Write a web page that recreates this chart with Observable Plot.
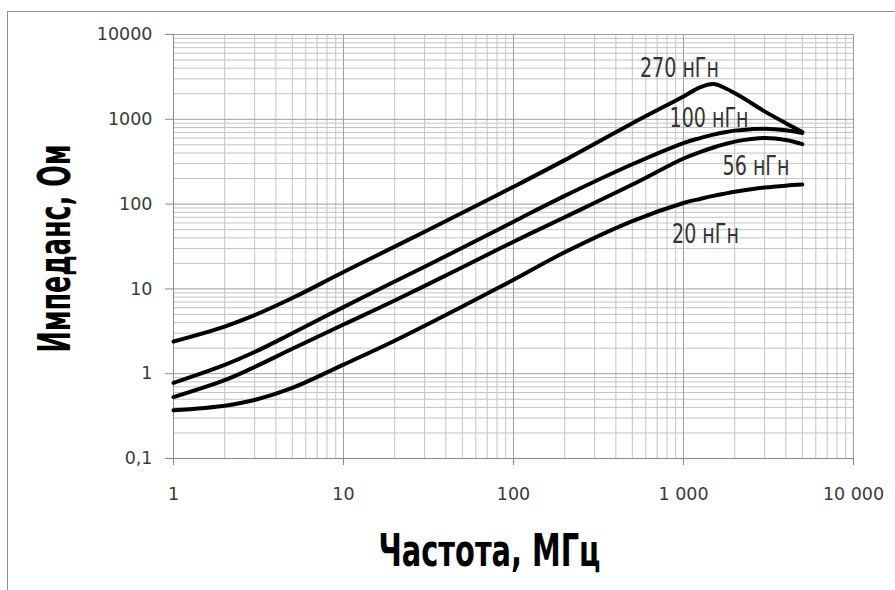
<!DOCTYPE html>
<html><head><meta charset="utf-8">
<script src="https://cdn.jsdelivr.net/npm/d3@7"></script>
<script src="https://cdn.jsdelivr.net/npm/@observablehq/plot@0.6"></script>
<style>
html,body{margin:0;padding:0;background:#fff;}
#wrap{position:relative;width:895px;height:590px;overflow:hidden;background:#fff;}
#border{position:absolute;left:7px;top:11px;width:1000px;height:1000px;border:1px solid #8f8f8f;box-sizing:border-box;pointer-events:none;}
#chart{position:absolute;left:0;top:0;}
</style></head><body>
<div id="wrap"><div id="chart"></div><div id="border"></div></div>
<script>
// Frequency, MHz
const freq = [1, 2, 3, 5, 10, 20, 50, 100, 200, 500, 1000, 1250, 1500, 1750, 2000, 2500, 3000, 4000, 5000];
// Impedance, Ohm
const z270 = [2.4, 3.6, 4.9, 7.8, 15.8, 31.5, 79, 160, 330, 900, 1860, 2380, 2600, 2340, 2040, 1560, 1240, 900, 710];
const z100 = [0.78, 1.27, 1.8, 3.0, 6.1, 12.2, 30.5, 62, 125, 295, 525, 600, 660, 705, 735, 765, 775, 745, 690];
const z56  = [0.53, 0.84, 1.2, 1.97, 3.8, 7.3, 18, 36, 70, 170, 345, 410, 465, 510, 545, 585, 600, 570, 510];
const z20  = [0.37, 0.42, 0.49, 0.68, 1.28, 2.45, 6.2, 12.8, 27, 63, 103, 115, 125, 133, 140, 150, 157, 165, 170];

const seriesNames = ["270 нГн", "100 нГн", "56 нГн", "20 нГн"];
const seriesValues = [z270, z100, z56, z20];

// Curve labels (data coordinates)
const labelText = ["270 нГн", "100 нГн", "56 нГн", "20 нГн"];
const labelF = [947, 1413, 2670, 1347];
const labelZ = [3980, 1028, 280, 44.4];

// Axis ticks
const xTicks = [1, 10, 100, 1000, 10000];
const xTickLabels = ["1", "10", "100", "1 000", "10 000"];
const yTicks = [0.1, 1, 10, 100, 1000, 10000];
const yTickLabels = ["0,1", "1", "10", "100", "1000", "10000"];

const xTitle = "Частота, МГц";
const yTitle = "Импеданс, Ом";

const rows = seriesNames.flatMap((name, i) => freq.map((f, j) => ({name, f, z: seriesValues[i][j]})));
const labels = labelText.map((t, i) => ({t, f: labelF[i], z: labelZ[i]}));

const minorX = xTicks.slice(0, -1).flatMap(d => d3.range(2, 10).map(m => m * d));
const minorY = yTicks.slice(0, -1).flatMap(d => d3.range(2, 10).map(m => +(m * d).toPrecision(3)));

const tickFont = "'DejaVu Sans', Verdana, sans-serif";
const titleFont = "'DejaVu Sans Condensed', 'DejaVu Sans', sans-serif";

const plot = Plot.plot({
  width: 895,
  height: 590,
  marginLeft: 173,
  marginTop: 34,
  marginRight: 42,
  marginBottom: 132,
  style: {background: "transparent", fontFamily: tickFont, fontSize: "18px", color: "#3a3a3a"},
  x: {type: "log", domain: [1, 10000]},
  y: {type: "log", domain: [0.1, 10000]},
  marks: [
    Plot.ruleX(minorX, {stroke: "#c4c4c4", strokeWidth: 1}),
    Plot.ruleY(minorY, {stroke: "#c4c4c4", strokeWidth: 1}),
    Plot.ruleX(xTicks, {stroke: "#a0a0a0", strokeWidth: 1}),
    Plot.ruleY(yTicks, {stroke: "#a0a0a0", strokeWidth: 1}),
    Plot.ruleX([xTicks[0]], {stroke: "#8a8a8a", strokeWidth: 1}),
    Plot.ruleY([yTicks[0]], {stroke: "#8a8a8a", strokeWidth: 1}),
    Plot.axisX({ticks: xTicks, tickFormat: (d) => xTickLabels[xTicks.indexOf(d)], tickSize: 7, tickPadding: 22, stroke: "#8a8a8a", fill: "#3a3a3a", label: null}),
    Plot.axisY({ticks: yTicks, tickFormat: (d) => yTickLabels[yTicks.indexOf(d)], tickSize: 8, tickPadding: 13, stroke: "#8a8a8a", fill: "#3a3a3a", label: null}),
    Plot.line(rows, {x: "f", y: "z", z: "name", stroke: "#000", strokeWidth: 4, curve: "catmull-rom", strokeLinejoin: "round", strokeLinecap: "round"}),
    Plot.text(labels, {x: "f", y: "z", text: "t", fill: "#333", fontSize: 27, fontFamily: titleFont, textAnchor: "middle"}),
    Plot.text([yTitle], {frameAnchor: "left", dx: -118, dy: 2, rotate: -90, fill: "#000", fontSize: 44, fontWeight: "bold", fontFamily: titleFont, textAnchor: "middle"}),
    Plot.text([xTitle], {frameAnchor: "bottom", dx: -24, dy: 107, fill: "#000", fontSize: 44, fontWeight: "bold", fontFamily: titleFont, textAnchor: "middle"})
  ]
});
document.getElementById("chart").appendChild(plot);

const svg = d3.select(plot);
const allText = svg.selectAll("text");
// tick labels: larger, Verdana-like
const tickSet = new Set([...xTickLabels, ...yTickLabels]);
allText.filter(function() { return tickSet.has(this.textContent); })
  .style("font-size", "17.5px").style("font-family", tickFont);
// Condense the narrow ISO-style lettering
allText.filter(function() { return this.textContent === yTitle; })
  .attr("textLength", 208).attr("lengthAdjust", "spacingAndGlyphs");
allText.filter(function() { return this.textContent === xTitle; })
  .attr("textLength", 222).attr("lengthAdjust", "spacingAndGlyphs");
const cl = allText.filter(function() { return labelText.includes(this.textContent); });
const first = cl.node();
if (first) {
  const factor = 79 / first.getComputedTextLength();
  cl.each(function() {
    const w = this.getComputedTextLength();
    d3.select(this).attr("textLength", w * factor).attr("lengthAdjust", "spacingAndGlyphs");
  });
}
</script>
</body></html>
